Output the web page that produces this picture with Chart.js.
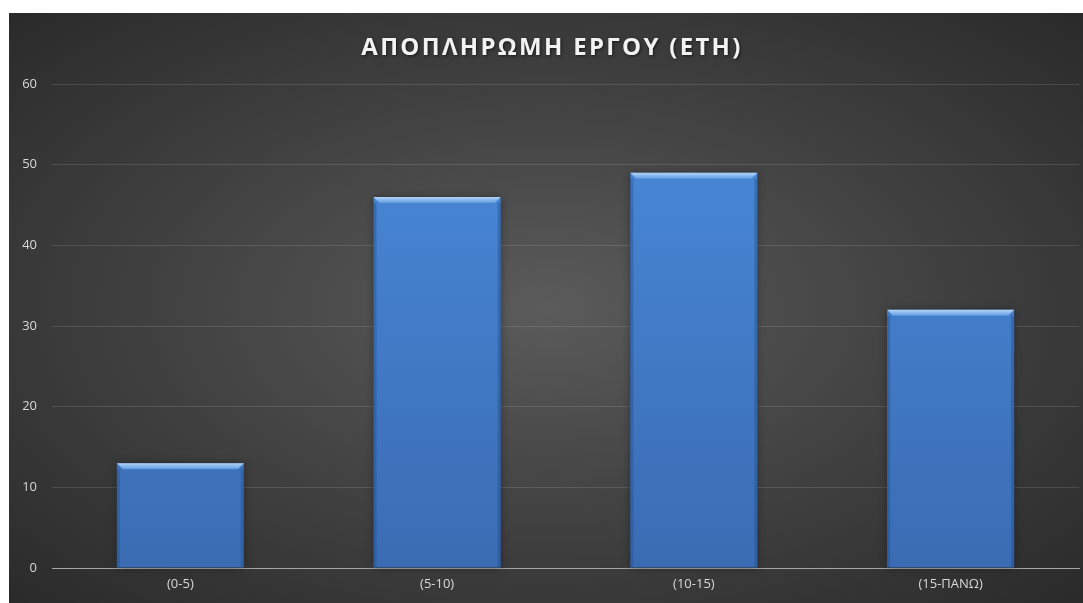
<!DOCTYPE html>
<html>
<head>
<meta charset="utf-8">
<script src="https://cdn.jsdelivr.net/npm/chart.js@4/dist/chart.umd.min.js"></script>
<style>
  html, body { margin: 0; padding: 0; background: #fff; }
  #wrap {
    position: absolute; left: 9px; top: 13px; width: 1074px; height: 590px;
    background: radial-gradient(ellipse at 50% 50%, #5b5b5b 0%, #444 45%, #2a2a2a 100%);
  }
</style>
</head>
<body>
<div id="wrap"><canvas id="payback"></canvas></div>
<script>
const titleText = 'ΑΠΟΠΛΗΡΩΜΗ ΕΡΓΟΥ (ΕΤΗ)';
const categories = ['(0-5)', '(5-10)', '(10-15)', '(15-ΠΑΝΩ)'];
const values = [13, 46, 49, 32];
const yTicks = [0, 10, 20, 30, 40, 50, 60];

document.addEventListener('DOMContentLoaded', function () {
    // title drawn by hand so we can use letter spacing + shadow
    const titlePlugin = {
        id: 'excelTitle',
        afterDraw(chart) {
            const ctx = chart.ctx;
            ctx.save();
            ctx.font = 'bold 24px "Open Sans", sans-serif';
            if ('letterSpacing' in ctx) ctx.letterSpacing = '2.3px';
            ctx.textAlign = 'center';
            ctx.textBaseline = 'middle';
            ctx.shadowColor = 'rgba(0,0,0,0.6)';
            ctx.shadowBlur = 3;
            ctx.shadowOffsetX = 1;
            ctx.shadowOffsetY = 1;
            ctx.fillStyle = '#f2f2f2';
            ctx.fillText(titleText, chart.width / 2 + 6, 35);
            ctx.restore();
        }
    };

    // glow behind bars and bevel on their top edge
    const bevelPlugin = {
        id: 'bevel',
        beforeDatasetsDraw(chart) {
            const ctx = chart.ctx;
            ctx.save();
            chart.getDatasetMeta(0).data.forEach(bar => {
                const w = bar.width;
                ctx.shadowColor = 'rgba(0,0,0,0.55)';
                ctx.shadowBlur = 8;
                ctx.fillStyle = 'rgba(40,40,40,0.6)';
                ctx.fillRect(bar.x - w / 2, bar.y, w, bar.base - bar.y);
            });
            ctx.restore();
        },
        afterDatasetsDraw(chart) {
            const ctx = chart.ctx;
            chart.getDatasetMeta(0).data.forEach(bar => {
                const l = bar.x - bar.width / 2, r = bar.x + bar.width / 2, t = bar.y;
                const h = 6;
                const g = ctx.createLinearGradient(0, t, 0, t + h);
                g.addColorStop(0, '#b3d4f6');
                g.addColorStop(1, '#5f9ce2');
                ctx.save();
                ctx.fillStyle = g;
                ctx.beginPath();
                ctx.moveTo(l, t);
                ctx.lineTo(r, t);
                ctx.lineTo(r - h, t + h);
                ctx.lineTo(l + h, t + h);
                ctx.closePath();
                ctx.fill();
                // darker side edges
                ctx.fillStyle = 'rgba(30,70,130,0.35)';
                ctx.fillRect(l, t + h, 3, bar.base - t - h);
                ctx.fillRect(r - 3, t + h, 3, bar.base - t - h);
                ctx.restore();
            });
        }
    };

    const ctx = document.getElementById('payback').getContext('2d');
    new Chart(ctx, {
        type: 'bar',
        data: {
            labels: categories,
            datasets: [{
                data: values,
                backgroundColor: function (context) {
                    const area = context.chart.chartArea;
                    if (!area) return '#4580cc';
                    const g = context.chart.ctx.createLinearGradient(0, area.top, 0, area.bottom);
                    g.addColorStop(0, '#4a8bdb');
                    g.addColorStop(1, '#3a6cb3');
                    return g;
                },
                borderWidth: 0,
                barPercentage: 0.495,
                categoryPercentage: 1.0
            }]
        },
        options: {
            responsive: true,
            maintainAspectRatio: false,
            animation: false,
            layout: { padding: { top: 71, right: 4, left: 0, bottom: 0 } },
            plugins: {
                legend: { display: false },
                title: { display: false },
                tooltip: { enabled: false }
            },
            scales: {
                x: {
                    grid: { display: false, drawTicks: false },
                    border: { display: true, color: '#a6a6a6', width: 1 },
                    ticks: {
                        color: '#d9d9d9',
                        padding: 8,
                        font: { family: '"Open Sans", sans-serif', size: 13 }
                    },
                    afterFit(scale) { scale.height = 35; }
                },
                y: {
                    min: 0,
                    max: 60,
                    afterBuildTicks(scale) { scale.ticks = yTicks.map(v => ({ value: v })); },
                    grid: {
                        color: function (c) { return c.tick.value === 0 ? '#a6a6a6' : 'rgba(255,255,255,0.12)'; },
                        drawTicks: false
                    },
                    border: { display: false },
                    ticks: {
                        color: '#d9d9d9',
                        padding: 15,
                        font: { family: '"Open Sans", sans-serif', size: 13 }
                    },
                    afterFit(scale) { scale.width = 43; }
                }
            }
        },
        plugins: [titlePlugin, bevelPlugin]
    });
});
</script>
</body>
</html>
